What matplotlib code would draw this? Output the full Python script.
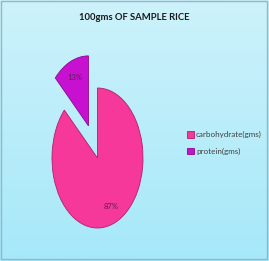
import matplotlib
matplotlib.use("Agg")
import matplotlib.pyplot as plt
import numpy as np
from matplotlib.patches import Rectangle
from matplotlib.colors import LinearSegmentedColormap

title = "100gms OF SAMPLE RICE"
categories = ["carbohydrate(gms)", "protein(gms)"]
values = [87, 13]
colors = ["#F5389A", "#C810D0"]
edge_colors = ["#B0206E", "#8A0A90"]

FONT = ["Lato", "DejaVu Sans"]

W, H = 269, 261
fig = plt.figure(figsize=(W / 100, H / 100), dpi=100)

# background gradient
bg = fig.add_axes([0, 0, 1, 1])
cmap = LinearSegmentedColormap.from_list("bg", ["#A6E8F9", "#CDF2FB"])
grad = np.linspace(0, 1, 256).reshape(-1, 1)
bg.imshow(grad, aspect="auto", cmap=cmap, origin="lower", extent=[0, 1, 0, 1])
bg.add_patch(Rectangle((0.004, 0.006), 0.99, 0.99, fill=False, edgecolor="#8FB8C8", lw=1.0,
                       transform=bg.transAxes))
bg.set_xlim(0, 1)
bg.set_ylim(0, 1)
bg.axis("off")

fig.text(134 / W, 1 - 17 / H, title, ha="center", va="center", fontsize=6.8,
         fontweight="bold", family=FONT, color="#1a1a1a")

# pie axes (elliptical)
ax = fig.add_axes([52 / W, 1 - 228 / H, 91 / W, 140 / H])
wedges, texts, autotexts = ax.pie(
    values, colors=colors, startangle=90, counterclock=False,
    explode=[0, 0.5], autopct="%d%%", pctdistance=0.75,
    wedgeprops=dict(edgecolor="#A0206A", linewidth=0.6),
    textprops=dict(fontsize=5.5, color="#5A2050", family=FONT))
for w, ec in zip(wedges, edge_colors):
    w.set_edgecolor(ec)
    w.set_clip_on(False)
for t in autotexts:
    t.set_clip_on(False)
ax.set_aspect("auto")
ax.set_xlim(-1, 1)
ax.set_ylim(-1, 1)
ax.axis("off")

leg = fig.legend(wedges, categories, loc="upper left",
                 bbox_to_anchor=(180 / W, 1 - 124 / H), frameon=False,
                 handlelength=0.8, handleheight=0.8,
                 handletextpad=0.3, labelspacing=1.2,
                 prop=dict(family=FONT, size=5.8))
for t in leg.get_texts():
    t.set_color("#404040")

fig.savefig("out.png", dpi=100)
